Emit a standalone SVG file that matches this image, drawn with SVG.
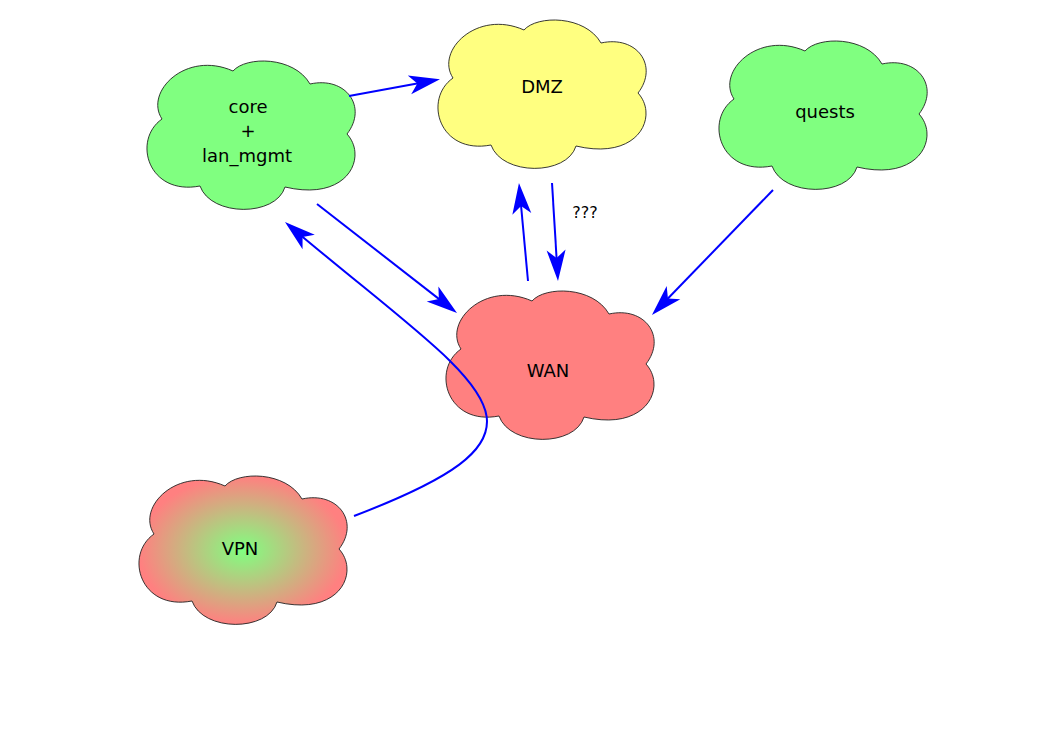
<svg xmlns="http://www.w3.org/2000/svg" xmlns:xlink="http://www.w3.org/1999/xlink" width="1053" height="745" viewBox="0 0 1053 745">
<defs>
<style>
.cloud{stroke:#222;stroke-width:0.9}
.green{fill:#80ff80}
.yellow{fill:#ffff80}
.red{fill:#ff8080}
.lbl{font-family:"DejaVu Sans","Liberation Sans",sans-serif;font-size:18px;fill:#000;text-anchor:middle}
.conn{fill:none;stroke:#0000ff;stroke-width:2;marker-end:url(#arrow)}
</style>
<path id="cloud" d="M16,57 C-2,30 40,-12 87,9 C100,-6 148,-6 164,22 C200,14 222,45 201,72 C222,95 202,140 139,125 C130,155 65,155 54,124 C2,134 -14,78 16,57 Z"/>
<radialGradient id="vpnGrad" cx="0.5" cy="0.5" r="0.5">
<stop offset="0" stop-color="#80ff80"/>
<stop offset="1" stop-color="#ff8080"/>
</radialGradient>
<marker id="arrow" markerUnits="userSpaceOnUse" orient="auto" refX="0" refY="0" markerWidth="40" markerHeight="40" overflow="visible">
<path d="M8,0 L-23,-9.5 L-15,0 L-23,9.5 Z" fill="#0000ff"/>
</marker>
</defs>
<rect width="1053" height="745" fill="#ffffff"/>
<g id="node-core">
<use xlink:href="#cloud" class="cloud green" transform="translate(146,62)"/>
<text class="lbl" x="248" y="113">core</text>
<text class="lbl" x="248" y="137">+</text>
<text class="lbl" x="247" y="162">lan_mgmt</text>
</g>
<g id="node-dmz">
<use xlink:href="#cloud" class="cloud yellow" transform="translate(437,21)"/>
<text class="lbl" x="542" y="93">DMZ</text>
</g>
<g id="node-quests">
<use xlink:href="#cloud" class="cloud green" transform="translate(718,42)"/>
<text class="lbl" x="825" y="118">quests</text>
</g>
<g id="node-wan">
<use xlink:href="#cloud" class="cloud red" transform="translate(445,292)"/>
<text class="lbl" x="548" y="377">WAN</text>
</g>
<g id="node-vpn">
<use xlink:href="#cloud" class="cloud" fill="url(#vpnGrad)" transform="translate(138,477)"/>
<text class="lbl" x="240" y="555">VPN</text>
</g>
<g id="connectors">
<path class="conn" d="M349,96 L432.1,80.7"/>
<path class="conn" d="M317,204 L450.7,308.1"/>
<path class="conn" d="M552,183 L557.5,273"/>
<path class="conn" d="M528,281 L519.7,191"/>
<path class="conn" d="M773,190 L657.5,309.2"/>
<path class="conn" d="M354,516 C582,429 487.5,393 291.1,227.2"/>
<text class="lbl" x="585" y="218" style="font-size:16px">???</text>
</g>
</svg>
